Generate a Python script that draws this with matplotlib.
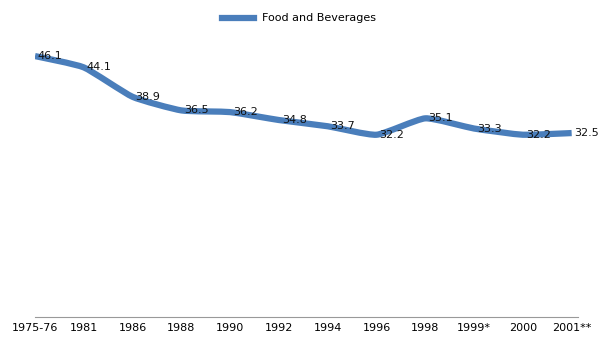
import matplotlib.pyplot as plt
import numpy as np
from matplotlib.path import Path
from matplotlib.patches import PathPatch

years = ['1975-76', '1981', '1986', '1988', '1990', '1992', '1994', '1996',
         '1998', '1999*', '2000', '2001**']
food = [46.1, 44.1, 38.9, 36.5, 36.2, 34.8, 33.7, 32.2, 35.1, 33.3, 32.2, 32.5]

blue = '#4a7ebb'

fig = plt.figure(figsize=(6.05, 3.4), dpi=100)
ax = fig.add_axes([35/605, 1 - 317/340, 543/605, 283/340])

x = np.arange(len(years))
y = np.array(food)

# lightly rounded line through the points (catmull-rom as cubic beziers)
verts = [(x[0], y[0])]
codes = [Path.MOVETO]
t = 0.25 / 3
for i in range(len(x) - 1):
    p0 = np.array([x[max(i-1, 0)], y[max(i-1, 0)]])
    p1 = np.array([x[i], y[i]])
    p2 = np.array([x[i+1], y[i+1]])
    p3 = np.array([x[min(i+2, len(x)-1)], y[min(i+2, len(x)-1)]])
    c1 = p1 + (p2 - p0) * t
    c2 = p2 - (p3 - p1) * t
    verts += [tuple(c1), tuple(c2), tuple(p2)]
    codes += [Path.CURVE4] * 3
ax.add_patch(PathPatch(Path(verts, codes), facecolor='none', edgecolor=blue,
                       lw=4.5, capstyle='butt', joinstyle='round'))
ax.plot([], [], color=blue, lw=4.5, label='Food and Beverages')

for xi, yi in zip(x, y):
    ax.text(xi + 0.06, yi, f'{yi:.1f}', fontsize=8, va='center', ha='left',
            color='#111111')

ax.set_xlim(0, len(years) - 1 + 0.13)
ax.set_ylim(0, 50)
ax.set_xticks(x)
ax.set_xticklabels(years, fontsize=8)
ax.tick_params(axis='x', length=0, pad=4)
ax.set_yticks([])
for s in ['top', 'left', 'right']:
    ax.spines[s].set_visible(False)
ax.spines['bottom'].set_color('#999999')
ax.spines['bottom'].set_linewidth(0.8)

fig.legend(loc='upper center', bbox_to_anchor=(0.495, 0.99), frameon=False,
           fontsize=8, handlelength=2.8, borderaxespad=0.5)

fig.savefig('out.png', dpi=100)
